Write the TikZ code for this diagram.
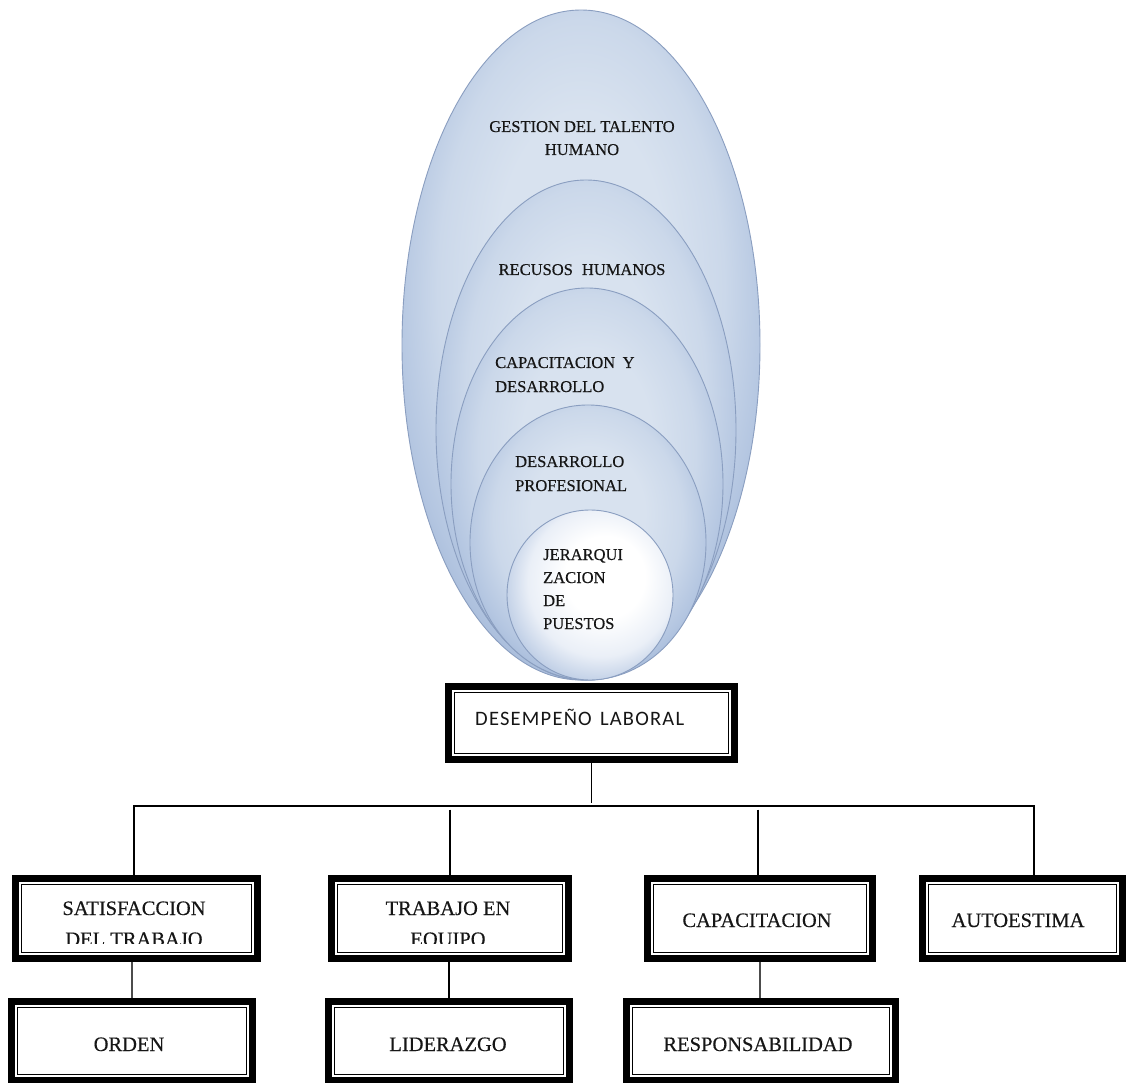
\documentclass[tikz,border=0pt]{standalone}
\usepackage{fontspec}
\setmainfont[FakeBold=0.35]{Liberation Serif}
\newfontfamily\labelsans[LetterSpace=6]{Carlito}

% colours of the nested ovals
\definecolor{rlight}{RGB}{216,226,239}
\definecolor{rmid}{RGB}{203,216,234}
\definecolor{rmdark}{RGB}{180,198,225}
\definecolor{rdark}{RGB}{146,170,207}
\definecolor{cmid}{RGB}{234,239,247}
\definecolor{cdark}{RGB}{172,192,222}
\definecolor{ovaledge}{RGB}{138,158,192}
\definecolor{inktext}{RGB}{22,22,22}

\pgfdeclareradialshading{ringshade}{\pgfpoint{0bp}{7bp}}{%
  color(0bp)=(rlight); color(12bp)=(rlight); color(20bp)=(rmid);
  color(26bp)=(rmdark); color(33bp)=(rdark); color(50bp)=(rdark)}
\pgfdeclareradialshading{coreshade}{\pgfpoint{6bp}{7bp}}{%
  color(0bp)=(white); color(12bp)=(white); color(22bp)=(cmid);
  color(32bp)=(cdark); color(50bp)=(cdark)}

\begin{document}
\begin{tikzpicture}[x=1pt,y=-1pt,
  oval/.style={shading=ringshade, draw=ovaledge, line width=0.9pt},
  core/.style={shading=coreshade, draw=ovaledge, line width=0.9pt},
  ovaltext/.style={font=\fontsize{16.5}{23}\selectfont, text=inktext, inner sep=0pt},
  frame/.style={draw=black, line width=7pt, fill=white, inner sep=0pt, outer sep=0pt},
  boxtext/.style={font=\fontsize{20.5}{31}\selectfont, text=inktext, inner sep=0pt},
  wire/.style={draw=black, line width=1.2pt, shorten <=3.5pt, shorten >=3.5pt},
  subwire/.style={draw=black!70, line width=1.8pt, shorten <=3.5pt, shorten >=3.5pt}]

\useasboundingbox (0,0) rectangle (1128,1083);
\fill[white] (0,0) rectangle (1128,1083);

% nested ovals, all meeting at the bottom
\path[oval] (581,345) ellipse [x radius=179, y radius=335];
\path[oval] (586,430) ellipse [x radius=150, y radius=250];
\path[oval] (587,484) ellipse [x radius=136, y radius=196];
\path[oval] (588,542.5) ellipse [x radius=118, y radius=137.5];
\path[core] (590,595) ellipse [x radius=83, y radius=85];

% oval labels
\node[ovaltext, anchor=base] (g1) at (582,132) {GESTION DEL TALENTO};
\node[ovaltext, anchor=base] (g2) at (582,155) {HUMANO};
\node[ovaltext, anchor=base] (rh) at (582,275) {RECUSOS\hspace{0.55em}HUMANOS};
\node[ovaltext, anchor=base west] (cd1) at (495,368) {CAPACITACION\hspace{0.45em}Y};
\node[ovaltext, anchor=base west] (cd2) at (495,392) {DESARROLLO};
\node[ovaltext, anchor=base west] (dp1) at (515,467) {DESARROLLO};
\node[ovaltext, anchor=base west] (dp2) at (515,491) {PROFESIONAL};
\node[ovaltext, anchor=base west] (jp1) at (543,560) {JERARQUI};
\node[ovaltext, anchor=base west] (jp2) at (543,583) {ZACION};
\node[ovaltext, anchor=base west] (jp3) at (543,606) {DE};
\node[ovaltext, anchor=base west] (jp4) at (543,629) {PUESTOS};

% framed boxes
\node[frame, minimum width=286pt, minimum height=73pt] (desem) at (591.5,723) {};
\node[frame, minimum width=242pt, minimum height=80pt] (sat)   at (136.5,918.5) {};
\node[frame, minimum width=237pt, minimum height=80pt] (trab)  at (450,918.5) {};
\node[frame, minimum width=225pt, minimum height=80pt] (capac) at (760,918.5) {};
\node[frame, minimum width=200pt, minimum height=80pt] (auto)  at (1022.5,918.5) {};
\node[frame, minimum width=241pt, minimum height=79pt] (orden) at (132,1041) {};
\node[frame, minimum width=241pt, minimum height=79pt] (lider) at (449,1041) {};
\node[frame, minimum width=269pt, minimum height=79pt] (resp)  at (761,1041) {};

% thin inner rule of each frame
\foreach \b in {desem,sat,trab,capac,auto,orden,lider,resp}
  \draw[line width=1.3pt] ([xshift=6pt,yshift=-6pt]\b.north west)
        rectangle ([xshift=-6pt,yshift=6pt]\b.south east);

% box labels
\node[anchor=base west, inner sep=0pt, text=inktext,
      font=\labelsans\fontsize{20.5}{24}\selectfont] (dl) at (475,725)
      {DESEMPEÑO\hspace{0.4em}LABORAL};
\begin{scope}
  \clip (0,880) rectangle (1128,943);
  \node[boxtext, anchor=base] (sat1) at (134,915) {SATISFACCION};
  \node[boxtext, anchor=base] (sat2) at (134,946) {DEL TRABAJO};
  \node[boxtext, anchor=base] (trab1) at (448,915) {TRABAJO EN};
  \node[boxtext, anchor=base] (trab2) at (448,946) {EQUIPO};
\end{scope}
\node[boxtext, anchor=base] (capt) at (757,927) {CAPACITACION};
\node[boxtext, anchor=base] (autot) at (1018,927) {AUTOESTIMA};
\node[boxtext, anchor=base] (ordt) at (129,1051) {ORDEN};
\node[boxtext, anchor=base] (lidt) at (448,1051) {LIDERAZGO};
\node[boxtext, anchor=base] (respt) at (758,1051) {RESPONSABILIDAD};

% connectors
\coordinate (bus) at (0,806);
\draw[wire] (desem.south) -- (desem.south |- bus);
\draw[wire] ([xshift=-2.5pt]sat.north) -- ([xshift=-2.5pt]sat.north |- bus)
  -- ([xshift=11.5pt]auto.north |- bus) -- ([xshift=11.5pt]auto.north);
\draw[wire] (trab.north |- bus) -- (trab.north);
\draw[wire] ([xshift=-2pt]capac.north |- bus) -- ([xshift=-2pt]capac.north);
\draw[subwire] (orden.north |- sat.south) -- (orden.north);
\draw[wire] (lider.north |- trab.south) -- (lider.north);
\draw[subwire] (capac.south) -- (capac.south |- resp.north);
\end{tikzpicture}
\end{document}
